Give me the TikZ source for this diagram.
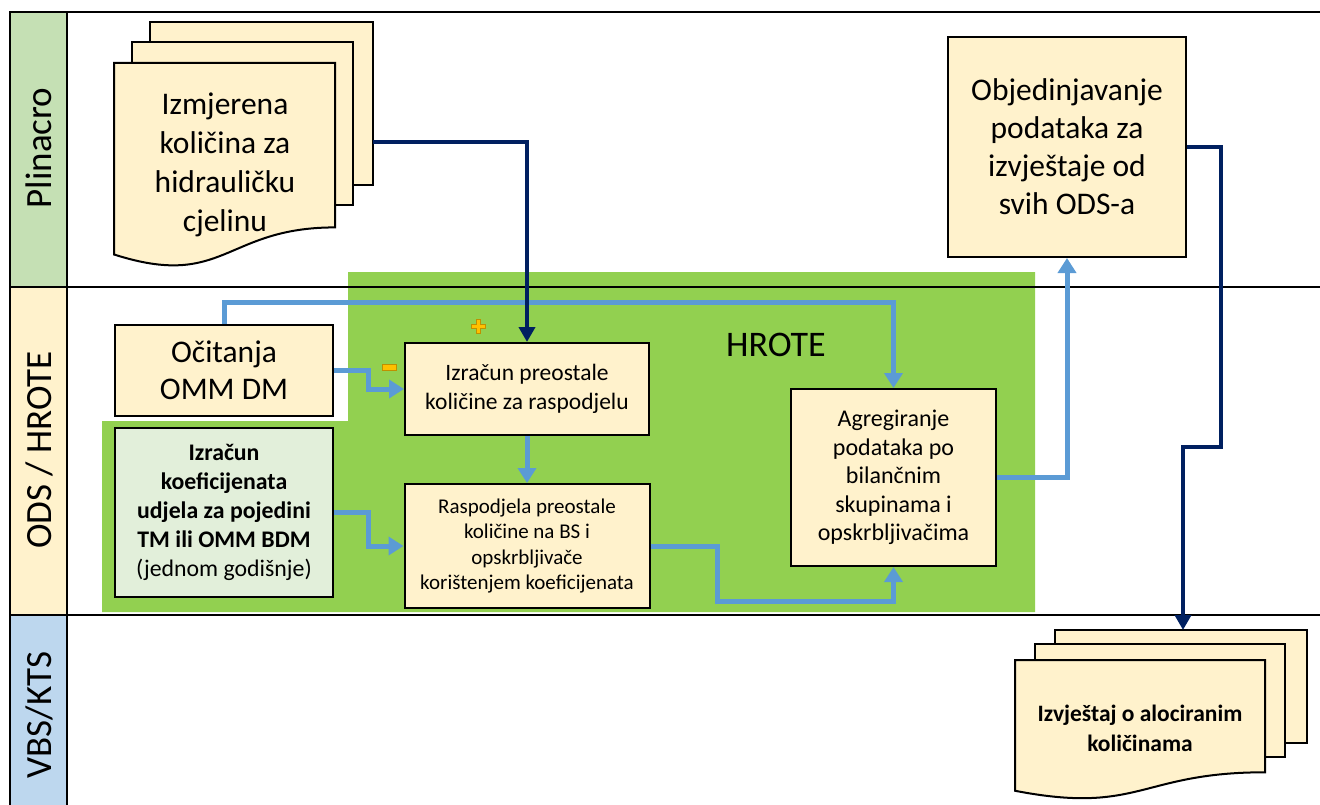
\documentclass[tikz,border=0pt]{standalone}
\usepackage{fontspec}
\setmainfont{Carlito}
\usetikzlibrary{arrows.meta}

\definecolor{laneGreen}{RGB}{197,224,180}
\definecolor{laneBeige}{RGB}{255,242,204}
\definecolor{laneBlue}{RGB}{189,215,238}
\definecolor{hroteGreen}{RGB}{146,208,80}
\definecolor{boxFill}{RGB}{255,242,204}
\definecolor{koefFill}{RGB}{226,239,218}
\definecolor{navyLine}{RGB}{0,32,96}
\definecolor{blueLine}{RGB}{91,155,213}
\definecolor{signFill}{RGB}{255,192,0}
\definecolor{signEdge}{RGB}{191,144,0}

\tikzset{
  procbox/.style={draw=black, line width=2pt, fill=boxFill, align=center, inner sep=0pt},
  sheet/.style={draw=black, line width=2pt, fill=boxFill},
  flowBlue/.style={draw=blueLine, line width=5pt, -{Triangle[width=18pt,length=15pt]}},
  flowNavy/.style={draw=navyLine, line width=4pt, -{Triangle[width=16pt,length=15pt]}},
  laneline/.style={line width=1.5pt},
  lanelabel/.style={rotate=90, font=\fontsize{37}{42}\selectfont},
}

% one sheet with a wavy bottom: x, y (top left), width, height
\newcommand{\docpage}[4]{%
  \filldraw[sheet] (#1,#2) -- ({#1+#3},#2) -- ({#1+#3},{#2+0.802*#4})
    .. controls ({#1+0.5*#3},{#2+0.802*#4}) and ({#1+0.5*#3},{#2+1.107*#4}) .. (#1,{#2+0.934*#4}) -- cycle;}

\begin{document}
\begin{tikzpicture}[x=1pt,y=-1pt]
        \useasboundingbox (0,0) rectangle (1320,805);

        % lanes
        \fill[laneGreen] (10,12) rectangle (67,287);
        \fill[laneBeige] (10,287) rectangle (67,615);
        \fill[laneBlue] (10,615) rectangle (67,805);
        \fill[hroteGreen] (348,272) -- (1035,272) -- (1035,612) -- (102,612) -- (102,421) -- (348,421) -- cycle;
        \draw[laneline] (10,805) -- (10,12) -- (1320,12);
        \draw[laneline] (67,12) -- (67,805);
        \draw[laneline] (10,287) -- (1320,287);
        \draw[laneline] (10,615) -- (1320,615);

        \node[lanelabel] (lanePlinacro) at (39,148) {Plinacro};
        \node[lanelabel] (laneOds) at (39,450) {ODS / HROTE};
        \node[lanelabel] (laneVbs) at (39,715) {VBS/KTS};

        \node[font=\fontsize{36}{42}\selectfont] (hrote) at (776,345) {HROTE};

        % measured quantity (stack of sheets)
        \filldraw[sheet] (150,22) rectangle (373,185);
        \filldraw[sheet] (132,42) rectangle (353,205);
        \docpage{114}{63}{221}{205}
        \node[align=center, font=\fontsize{31.5}{39}\selectfont] (measured) at (225,165) {Izmjerena\\količina za\\hidrauličku\\cjelinu};
        \coordinate (measuredOut) at (373,142);

        % report (stack of sheets)
        \filldraw[sheet] (1055,630) rectangle (1307,743);
        \filldraw[sheet] (1035,644) rectangle (1285,757);
        \docpage{1015}{660}{250}{140}
        \node[align=center, font=\bfseries\fontsize{23.5}{30}\selectfont] (report) at (1140,728) {Izvještaj o alociranim\\količinama};
        \coordinate (reportIn) at (1183,630);

        % process boxes
        \node[procbox, minimum width=218pt, minimum height=91pt, font=\fontsize{31.5}{37}\selectfont] (ocitanja) at (224,370.5) {Očitanja\\OMM DM};
        \node[procbox, fill=koefFill, minimum width=218pt, minimum height=169pt, font=\fontsize{23.8}{29}\selectfont] (koef) at (224,512.5)
            {\textbf{Izračun}\\\textbf{koeficijenata}\\\textbf{udjela za pojedini}\\\textbf{TM ili OMM BDM}\\(jednom godišnje)};
        \node[procbox, minimum width=244pt, minimum height=92pt, font=\fontsize{23.5}{29}\selectfont] (preostale) at (527,389) {Izračun preostale\\količine za raspodjelu};
        \node[procbox, minimum width=245pt, minimum height=124pt, font=\fontsize{21}{25.5}\selectfont] (raspodjela) at (527,546)
            {Raspodjela preostale\\količine na BS i\\opskrbljivače\\korištenjem koeficijenata};
        \node[procbox, minimum width=205pt, minimum height=177pt, font=\fontsize{24}{28.5}\selectfont] (agreg) at (893.5,477.5)
            {Agregiranje\\podataka po\\bilančnim\\skupinama i\\opskrbljivačima};
        \node[procbox, minimum width=238pt, minimum height=220pt, font=\fontsize{31.5}{38}\selectfont] (objed) at (1067,147)
            {Objedinjavanje\\podataka za\\izvještaje od\\svih ODS-a};

        % flows
        \draw[flowBlue] (ocitanja.north) -- ++(0,-22) -| (agreg.north);
        \draw[flowBlue] (ocitanja.east) -- ++(34,0) |- (preostale.west);
        \draw[flowBlue] (koef.east) -- ++(34,0) |- (raspodjela.west);
        \draw[flowBlue] (preostale.south) -- (raspodjela.north);
        \draw[flowBlue] (raspodjela.east) -- ++(67,0) -- ++(0,55) -| (agreg.south);
        \draw[flowBlue] (agreg.east) -| (objed.south);

        \coordinate (navyBend) at (1221,447);
        \draw[flowNavy] (measuredOut) -| (preostale.north);
        \draw[flowNavy] (objed.east) -| (navyBend) -| (reportIn);

        % plus and minus signs
        \filldraw[draw=signEdge, fill=signFill, line width=0.8pt] (471,324) -- (476,324) -- (476,319) -- (480,319) -- (480,324) -- (485,324)
            -- (485,328) -- (480,328) -- (480,333) -- (476,333) -- (476,328) -- (471,328) -- cycle;
        \filldraw[draw=signEdge, fill=signFill, line width=0.8pt] (382,364) rectangle (396,370);

    \end{tikzpicture}
\end{document}
